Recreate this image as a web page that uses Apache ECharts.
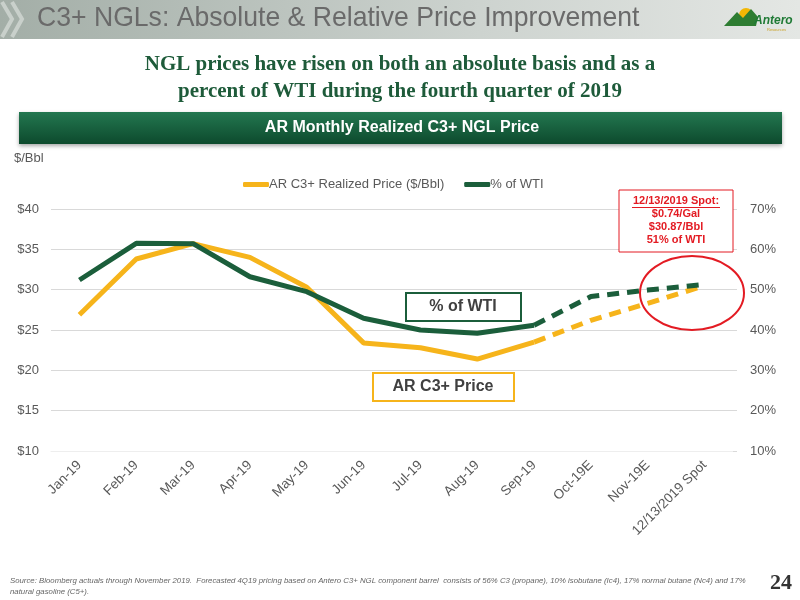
<!DOCTYPE html>
<html>
<head>
<meta charset="utf-8">
<script src="https://cdn.jsdelivr.net/npm/echarts@6/dist/echarts.min.js"></script>
<style>
  html, body { margin: 0; padding: 0; background: #fff; }
  #grafico { width: 800px; height: 600px; }
</style>
</head>
<body>
<div id="grafico"></div>
<script>
// Preço realizado C3+ e % do WTI, jan-19 até o spot de 13/12/2019
const MESES = ["Jan-19", "Feb-19", "Mar-19", "Apr-19", "May-19", "Jun-19", "Jul-19", "Aug-19", "Sep-19", "Oct-19E", "Nov-19E", "12/13/2019 Spot"];
const PRECO = [26.9, 33.8, 35.7, 34.0, 30.3, 23.4, 22.8, 21.4, 23.5, 26.2, 28.3, 30.5];
const PCT_WTI = [52.4, 61.5, 61.4, 53.2, 49.5, 42.9, 40.0, 39.2, 41.2, 48.3, 49.9, 51.3];
const ULTIMO_REAL = 8; // Sep-19: depois disso é estimativa (tracejado)
const TICKS_USD = { min: 10, max: 40, step: 5 };
const TICKS_PCT = { min: 10, max: 70, step: 10 };

const OURO = "#F6B41B";
const VERDE = "#1B5E3B";
const CINZA = "#595959";
const VERMELHO = "#E31B23";

const NOME_PRECO = "AR C3+ Realized Price ($/Bbl)";
const NOME_PCT = "% of WTI";

const real = (s) => s.map((v, i) => (i <= ULTIMO_REAL ? v : null));
const estimado = (s) => s.map((v, i) => (i >= ULTIMO_REAL ? v : null));

function linha(nome, dados, cor, eixo, tracejado) {
  return {
    name: nome,
    type: "line",
    yAxisIndex: eixo,
    data: dados,
    symbol: "none",
    connectNulls: false,
    lineStyle: { color: cor, width: 5, type: tracejado ? [12, 8] : "solid", cap: "butt" },
    itemStyle: { color: cor },
    z: eixo === 1 ? 3 : 2,
  };
}

// texto centrado num ponto
function rotulo(x, y, t, estilo) {
  return {
    type: "text", x, y, z: 10,
    style: Object.assign({ text: t, align: "center", verticalAlign: "middle" }, estilo),
  };
}

const g = echarts.init(document.getElementById("grafico"), null, { renderer: "canvas" });

g.setOption({
  animation: false,
  textStyle: { fontFamily: "Liberation Sans, Arial, sans-serif" },
  grid: { left: 51, right: 67, top: 209, bottom: 149 },
  legend: {
    data: [NOME_PRECO, NOME_PCT],
    left: 243,
    top: 178,
    padding: 0,
    itemGap: 20,
    itemWidth: 26,
    itemHeight: 5,
    icon: "roundRect",
    textStyle: { color: CINZA, fontSize: 13, padding: [0, 0, 0, -5] },
  },
  xAxis: {
    type: "category",
    data: MESES,
    boundaryGap: true,
    axisTick: { show: false },
    axisLine: { show: true, lineStyle: { color: "#EEEEEE" } },
    axisLabel: { rotate: 45, color: CINZA, fontSize: 13.5, margin: 12, interval: 0 },
  },
  yAxis: [
    {
      type: "value",
      min: TICKS_USD.min,
      max: TICKS_USD.max,
      interval: TICKS_USD.step,
      axisLine: { show: false },
      axisTick: { show: false },
      axisLabel: { color: CINZA, fontSize: 13, margin: 12, formatter: "${value}" },
      splitLine: { lineStyle: { color: "#D9D9D9", width: 1 } },
    },
    {
      type: "value",
      min: TICKS_PCT.min,
      max: TICKS_PCT.max,
      interval: TICKS_PCT.step,
      axisLine: { show: false },
      axisTick: { show: true, length: 4, lineStyle: { color: "#D9D9D9" } },
      axisLabel: { color: CINZA, fontSize: 13, margin: 17, formatter: "{value}%" },
      splitLine: { show: false },
    },
  ],
  series: [
    linha(NOME_PRECO, real(PRECO), OURO, 0, false),
    linha(NOME_PRECO, estimado(PRECO), OURO, 0, true),
    linha(NOME_PCT, real(PCT_WTI), VERDE, 1, false),
    linha(NOME_PCT, estimado(PCT_WTI), VERDE, 1, true),
  ],
  graphic: [
    // faixa do título
    {
      type: "rect", shape: { x: 0, y: 0, width: 800, height: 39 }, z: 1,
      style: { fill: new echarts.graphic.LinearGradient(0, 0, 1, 0, [
        { offset: 0, color: "#A3AEA7" }, { offset: 0.6, color: "#CDD3CF" }, { offset: 1, color: "#E4E7E4" },
      ]) },
    },
    { type: "polyline", shape: { points: [[2, 2], [12, 19], [2, 37]] }, z: 2, style: { stroke: "#C9D0CB", lineWidth: 4, fill: null } },
    { type: "polyline", shape: { points: [[12, 2], [22, 19], [12, 37]] }, z: 2, style: { stroke: "#C9D0CB", lineWidth: 4, fill: null } },
    {
      type: "text", x: 37, y: 4, scaleX: 0.95, z: 10,
      style: { text: "C3+ NGLs: Absolute & Relative Price Improvement", fill: "#6A6A6A", fontSize: 28, fontFamily: "Liberation Sans, Arial, sans-serif" },
    },
    // logo
    { type: "circle", shape: { cx: 746, cy: 15, r: 7 }, z: 2, style: { fill: "#F2B705" } },
    { type: "polygon", shape: { points: [[724, 26], [737, 12], [743, 18], [751, 9], [758, 17], [756, 26]] }, z: 3, style: { fill: "#2E7D32" } },
    { type: "text", x: 754, y: 15, z: 10, style: { text: "Antero", fill: "#1F7A35", fontSize: 12, fontWeight: "bold", fontStyle: "italic" } },
    { type: "text", x: 767, y: 28, z: 10, style: { text: "Resources", fill: "#C9A227", fontSize: 4 } },
    // subtítulo
    rotulo(400, 65, "NGL prices have risen on both an absolute basis and as a", {
      fill: "#1E5B3A", fontSize: 21, fontWeight: "bold", fontFamily: "Liberation Serif, serif",
    }),
    rotulo(400, 92, "percent of WTI during the fourth quarter of 2019", {
      fill: "#1E5B3A", fontSize: 21, fontWeight: "bold", fontFamily: "Liberation Serif, serif",
    }),
    // faixa verde
    {
      type: "rect", shape: { x: 19, y: 112, width: 763, height: 32 }, z: 1,
      style: {
        fill: new echarts.graphic.LinearGradient(0, 0, 0, 1, [
          { offset: 0, color: "#237750" }, { offset: 1, color: "#0D4A2D" },
        ]),
        shadowBlur: 4, shadowOffsetY: 2, shadowColor: "rgba(0,0,0,0.35)",
      },
    },
    rotulo(402, 128, "AR Monthly Realized C3+ NGL Price", { fill: "#fff", fontSize: 16, fontWeight: "bold" }),
    { type: "text", x: 14, y: 152, z: 10, style: { text: "$/Bbl", fill: CINZA, fontSize: 13 } },
    // caixas de anotação
    { type: "rect", shape: { x: 406, y: 293, width: 115, height: 28 }, z: 5, style: { fill: "#fff", stroke: VERDE, lineWidth: 2 } },
    rotulo(463, 307, "% of WTI", { fill: "#404040", fontSize: 16, fontWeight: "bold" }),
    { type: "rect", shape: { x: 373, y: 373, width: 141, height: 28 }, z: 5, style: { fill: "#fff", stroke: OURO, lineWidth: 2 } },
    rotulo(443, 387, "AR C3+ Price", { fill: "#404040", fontSize: 16, fontWeight: "bold" }),
    { type: "rect", shape: { x: 619, y: 190, width: 114, height: 62 }, z: 5, style: { fill: "#fff", stroke: VERMELHO, lineWidth: 1 } },
    rotulo(676, 201, "12/13/2019 Spot:", { fill: VERMELHO, fontSize: 11, fontWeight: "bold" }),
    rotulo(676, 214, "$0.74/Gal", { fill: VERMELHO, fontSize: 11, fontWeight: "bold" }),
    rotulo(676, 227, "$30.87/Bbl", { fill: VERMELHO, fontSize: 11, fontWeight: "bold" }),
    rotulo(676, 240, "51% of WTI", { fill: VERMELHO, fontSize: 11, fontWeight: "bold" }),
    { type: "rect", shape: { x: 632, y: 207, width: 88, height: 1 }, z: 10, style: { fill: VERMELHO } },
    { type: "ellipse", shape: { cx: 692, cy: 293, rx: 52, ry: 37 }, z: 6, style: { fill: null, stroke: VERMELHO, lineWidth: 2 } },
    // rodapé
    {
      type: "text", x: 10, y: 575, z: 10,
      style: {
        text: "Source: Bloomberg actuals through November 2019.  Forecasted 4Q19 pricing based on Antero C3+ NGL component barrel  consists of 56% C3 (propane), 10% isobutane (Ic4), 17% normal butane (Nc4) and 17%\nnatural gasoline (C5+).",
        fill: "#666", fontSize: 7.8, fontStyle: "italic", lineHeight: 11,
      },
    },
    { type: "text", x: 770, y: 572, z: 10, style: { text: "24", fill: "#333", fontSize: 22, fontWeight: "bold", fontFamily: "Liberation Serif, serif" } },
  ],
});
</script>
</body>
</html>
